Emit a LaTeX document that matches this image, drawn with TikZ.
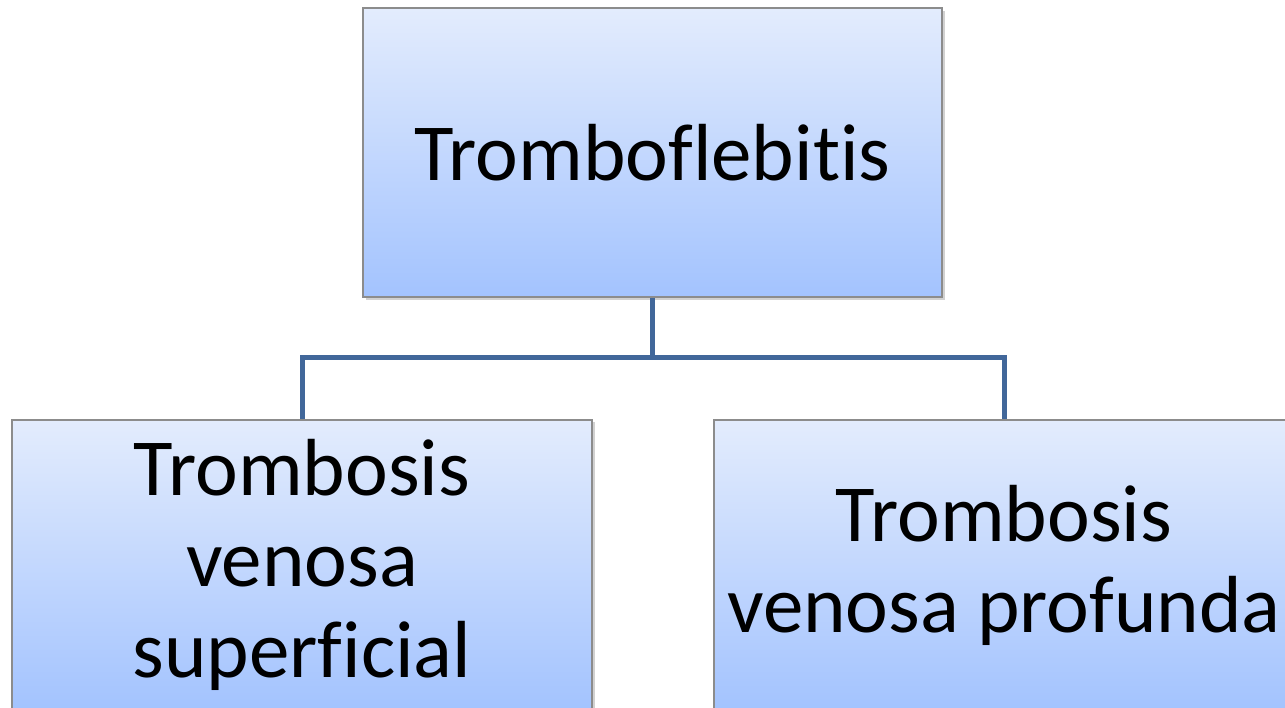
\documentclass[tikz,border=0pt]{standalone}
\usepackage{fontspec}
\setmainfont[Ligatures={NoCommon}]{Carlito}
\usetikzlibrary{calc}
\definecolor{boxtop}{HTML}{E3ECFD}
\definecolor{boxbot}{HTML}{A3C3FE}
\definecolor{boxedge}{HTML}{8C8C8C}
\definecolor{linkblue}{HTML}{41679A}
\tikzset{
  orgbox/.style={rectangle, draw=boxedge, line width=1.5pt,
    top color=boxtop, bottom color=boxbot, inner sep=0pt,
    align=center, text=black,
    font=\fontsize{81}{91}\selectfont},
  shadowbox/.style={fill=black, opacity=0.18},
  link/.style={draw=linkblue, line width=5pt}
}
\begin{document}
\begin{tikzpicture}[x=1pt,y=-1pt]
\useasboundingbox (0,0) rectangle (1285,707);
\clip (0,0) rectangle (1285,707);
\fill[white] (0,0) rectangle (1285,707);
% soft drop shadows under the boxes
\fill[shadowbox] (366,11) rectangle (945,300);
\fill[shadowbox] (15,422) rectangle (595,712);
\fill[shadowbox] (717,422) rectangle (1297,712);
% boxes
\node[orgbox, minimum width=579pt, minimum height=289pt] (top) at (652.5,152.5) {Tromboflebitis};
\node[orgbox, minimum width=580pt, minimum height=290pt] (left) at (302,565) {Trombosis\\venosa\\superficial};
\node[orgbox, minimum width=580pt, minimum height=290pt] (right) at (1004,565) {Trombosis\\venosa profunda};
% connectors
\coordinate (j) at ($(top.south)+(0,60)$);
\draw[link] (top.south) -- (j);
\draw[link] (j) -| (left.north);
\draw[link] (j) -| (right.north);
\end{tikzpicture}
\end{document}
